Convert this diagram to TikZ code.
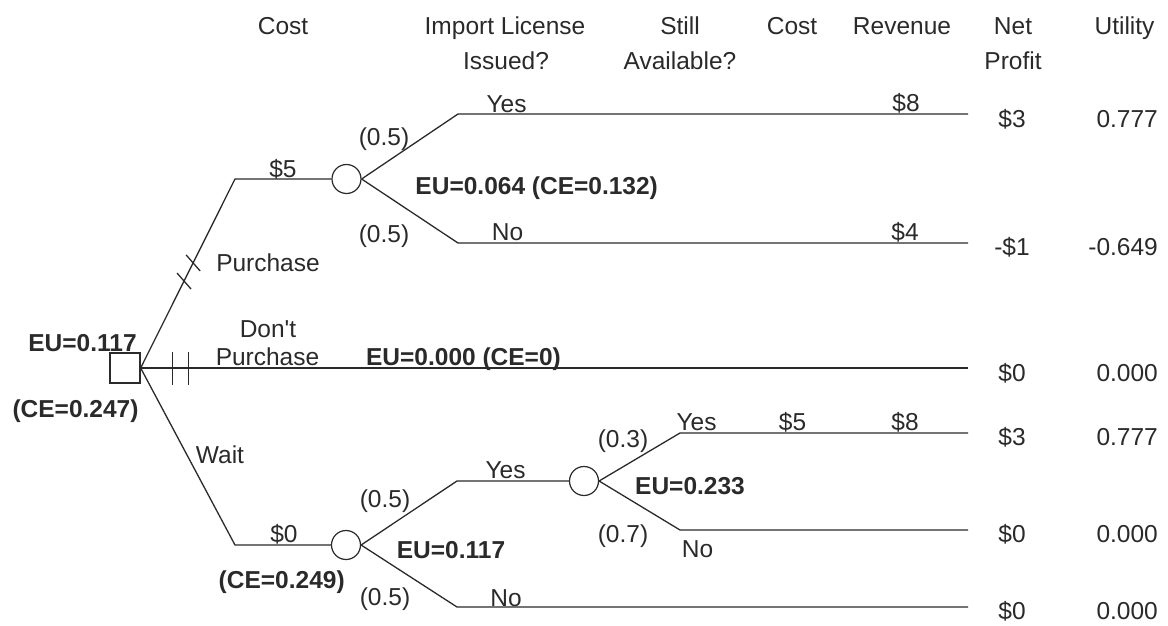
\documentclass[tikz,border=0pt]{standalone}
\usepackage{fontspec}
\setmainfont{Liberation Sans}
\usetikzlibrary{calc}
\definecolor{ink}{HTML}{2A2A2A}
\begin{document}
\begin{tikzpicture}[x=1pt,y=-1pt,
  lbl/.style={font=\fontsize{24.5}{28}\selectfont, text=ink, anchor=base, inner sep=0pt},
  blbl/.style={lbl, font=\fontsize{24.5}{28}\selectfont\bfseries},
  ulbl/.style={lbl, anchor=base east},
  edge/.style={draw=ink, line width=1.3pt},
  decnode/.style={draw=ink, line width=1.3pt, rectangle, minimum size=30pt, inner sep=0pt},
  chancenode/.style={draw=ink, line width=1.2pt, circle, minimum size=29pt, inner sep=0pt}]
\useasboundingbox (0,0) rectangle (1168,626);
% nodes
\node[decnode] (d) at (125,368) {};
\node[chancenode] (c1) at (346.5,179) {};
\node[chancenode] (c2) at (346,545) {};
\node[chancenode] (c3) at (584,481) {};
\coordinate (p1) at (235,179);
\coordinate (w1) at (235,545);
\coordinate (c1y) at (458,114);
\coordinate (c1n) at (458,243);
\coordinate (c2y) at (457,481);
\coordinate (c2n) at (457,607);
\coordinate (c3y) at (680,433);
\coordinate (c3n) at (680,530);
\coordinate (e1) at (968,114);
\coordinate (e2) at (968,243);
\coordinate (e3) at (968,368);
\coordinate (e4) at (968,433);
\coordinate (e5) at (968,530);
\coordinate (e6) at (968,607);
% branches
\draw[edge] (d.east) -- (p1) -- (c1.west);
\draw[edge] (d.east) -- (e3);
\draw[edge] (d.east) -- (w1) -- (c2.west);
\draw[edge] (c1.east) -- (c1y) -- (e1);
\draw[edge] (c1.east) -- (c1n) -- (e2);
\draw[edge] (c2.east) -- (c2y) -- (c3.west);
\draw[edge] (c2.east) -- (c2n) -- (e6);
\draw[edge] (c3.east) -- (c3y) -- (e4);
\draw[edge] (c3.east) -- (c3n) -- (e5);
% hash marks
\draw[edge] ($(d.east)+(32,0)$) +(0,-16) -- +(0,17);
\draw[edge] ($(d.east)+(48,0)$) +(0,-16) -- +(0,17);
\draw[edge] ($(d.east)!0.556!(p1)$) +(-7,-8) -- +(7,8);
\draw[edge] ($(d.east)!0.46!(p1)$) +(-7,-8) -- +(7,8);
% headers
\node[lbl] (h1) at (283,35) {Cost};
\node[lbl] (h2a) at (505,35) {Import License};
\node[lbl] (h2b) at (506,70) {Issued?};
\node[lbl] (h3a) at (680,35) {Still};
\node[lbl] (h3b) at (680,70) {Available?};
\node[lbl] (h4) at (792,35) {Cost};
\node[lbl] (h5) at (902,35) {Revenue};
\node[lbl] (h6a) at (1013,35) {Net};
\node[lbl] (h6b) at (1013,70) {Profit};
\node[lbl] (h7) at (1124.5,35) {Utility};
% decision labels
\node[blbl] (deu) at (82.5,351) {EU=0.117};
\node[blbl] (dce) at (75.5,417) {(CE=0.247)};
\node[lbl] (purch) at (268,271) {Purchase};
\node[lbl] (dont1) at (268,337) {Don\textquotesingle t};
\node[lbl] (dont2) at (267.5,365) {Purchase};
\node[blbl] (dpeu) at (463.5,365) {EU=0.000 (CE=0)};
\node[lbl] (wait) at (220,463) {Wait};
% purchase subtree
\node[lbl] (cost5) at (283,177) {\$5};
\node[lbl] (p1y) at (384,145) {(0.5)};
\node[lbl] (p1n) at (384,242) {(0.5)};
\node[blbl] (c1eu) at (536.7,194) {EU=0.064 (CE=0.132)};
\node[lbl] (c1yes) at (506.5,112) {Yes};
\node[lbl] (c1no) at (507.5,240) {No};
\node[lbl] (rev1) at (906,111) {\$8};
\node[lbl] (rev2) at (905,240) {\$4};
% wait subtree
\node[lbl] (cost0) at (284,542) {\$0};
\node[blbl] (wce) at (281.7,588) {(CE=0.249)};
\node[lbl] (p2y) at (385,507) {(0.5)};
\node[blbl] (c2eu) at (451,558) {EU=0.117};
\node[lbl] (p2n) at (385,605) {(0.5)};
\node[lbl] (c2yes) at (505.5,478) {Yes};
\node[lbl] (c2no) at (506,606) {No};
\node[lbl] (p3y) at (623,447) {(0.3)};
\node[lbl] (c3yes) at (696.5,430) {Yes};
\node[lbl] (cost5b) at (792.5,430) {\$5};
\node[lbl] (rev3) at (905,430) {\$8};
\node[blbl] (c3eu) at (690,494) {EU=0.233};
\node[lbl] (p3n) at (623,542) {(0.7)};
\node[lbl] (c3no) at (697.5,557) {No};
% net profit
\node[lbl] (np1) at (1012,127) {\$3};
\node[lbl] (np2) at (1012,255) {-\$1};
\node[lbl] (np3) at (1012,381) {\$0};
\node[lbl] (np4) at (1012,445) {\$3};
\node[lbl] (np5) at (1012,542) {\$0};
\node[lbl] (np6) at (1012,619) {\$0};
% utility
\node[ulbl] (u1) at (1158,127) {0.777};
\node[ulbl] (u2) at (1158,255) {-0.649};
\node[ulbl] (u3) at (1158,381) {0.000};
\node[ulbl] (u4) at (1158,445) {0.777};
\node[ulbl] (u5) at (1158,542) {0.000};
\node[ulbl] (u6) at (1158,619) {0.000};
\end{tikzpicture}
\end{document}
